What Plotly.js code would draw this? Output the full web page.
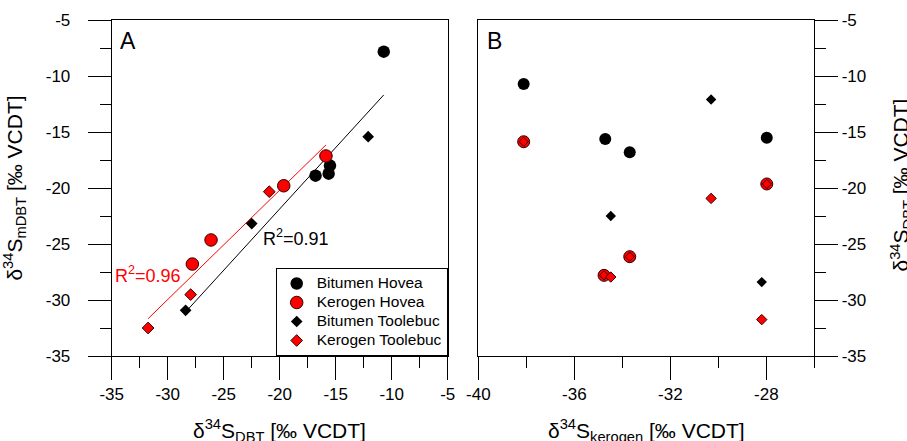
<!DOCTYPE html>
<html>
<head>
<meta charset="utf-8">
<script src="https://cdn.plot.ly/plotly-3.0.1.min.js"></script>
<style>html,body{margin:0;padding:0;background:#fff;}#chart{width:907px;height:441px;}</style>
</head>
<body>
<div id="chart"></div>
<script>
// δ34S of DBT (shared: x in panel A, y in panel B)
const bitHoveaDBT  = [-10.71, -15.51, -15.63, -16.80];
const bitHoveaMDBT = [-7.83, -18.00, -18.72, -18.90];
const bitHoveaKer  = [-38.11, -27.98, -34.71, -33.69];

const kerHoveaDBT  = [-15.87, -19.64, -26.13, -27.80];
const kerHoveaMDBT = [-17.14, -19.80, -24.64, -26.79];
const kerHoveaKer  = [-38.11, -27.98, -33.69, -34.76];

const bitTooleDBT  = [-12.10, -22.50, -28.40];
const bitTooleMDBT = [-15.42, -23.18, -30.92];
const bitTooleKer  = [-30.30, -34.48, -28.19];

const kerTooleDBT  = [-20.93, -27.95, -31.75];
const kerTooleMDBT = [-20.33, -29.52, -32.50];
const kerTooleKer  = [-30.30, -34.48, -28.19];

const seriesNames = ['Bitumen Hovea', 'Kerogen Hovea', 'Bitumen Toolebuc', 'Kerogen Toolebuc'];
const r2Labels = ['R<sup>2</sup>=0.91', 'R<sup>2</sup>=0.96'];

// tick labels
const dbtTickVals = [-35, -30, -25, -20, -15, -10, -5];
const dbtTickText = ['-35', '-30', '-25', '-20', '-15', '-10', '-5'];
const kerTickVals = [-40, -36, -32, -28];
const kerTickText = ['-40', '-36', '-32', '-28'];

// axis titles
const titleDBT = 'δ<sup>34</sup>S<sub>DBT</sub> [‰ VCDT]';
const titleMDBT = 'δ<sup>34</sup>S<sub>mDBT</sub> [‰ VCDT]';
const titleKer = 'δ<sup>34</sup>S<sub>kerogen</sub> [‰ VCDT]';

const FONT = 'Liberation Sans, Arial, sans-serif';

function fit(xs, ys) {
  const n = xs.length;
  const mx = xs.reduce((a, b) => a + b, 0) / n;
  const my = ys.reduce((a, b) => a + b, 0) / n;
  let sxy = 0, sxx = 0;
  for (let i = 0; i < n; i++) { sxy += (xs[i] - mx) * (ys[i] - my); sxx += (xs[i] - mx) ** 2; }
  const m = sxy / sxx, b = my - m * mx;
  const x0 = Math.min(...xs), x1 = Math.max(...xs);
  return { x: [x0, x1], y: [m * x0 + b, m * x1 + b] };
}

const blackX = bitHoveaDBT.concat(bitTooleDBT), blackY = bitHoveaMDBT.concat(bitTooleMDBT);
const redX = kerHoveaDBT.concat(kerTooleDBT), redY = kerHoveaMDBT.concat(kerTooleMDBT);
const fitBlack = fit(blackX, blackY);
const fitRed = fit(redX, redY);

const lg = n => '<span style="font-size:15.5px">' + n + '</span>';

const outline = { color: '#300000', width: 1 };

const traces = [
  { x: fitBlack.x, y: fitBlack.y, mode: 'lines', line: { color: 'black', width: 1 }, showlegend: false, xaxis: 'x', yaxis: 'y', hoverinfo: 'skip' },
  { x: fitRed.x, y: fitRed.y, mode: 'lines', line: { color: 'red', width: 1 }, showlegend: false, xaxis: 'x', yaxis: 'y', hoverinfo: 'skip' },
  { x: bitHoveaDBT, y: bitHoveaMDBT, mode: 'markers', name: lg(seriesNames[0]), marker: { symbol: 'circle', size: 12.5, color: 'black' }, xaxis: 'x', yaxis: 'y' },
  { x: kerHoveaDBT, y: kerHoveaMDBT, mode: 'markers', name: lg(seriesNames[1]), marker: { symbol: 'circle', size: 12.5, color: 'red', line: outline }, xaxis: 'x', yaxis: 'y' },
  { x: bitTooleDBT, y: bitTooleMDBT, mode: 'markers', name: lg(seriesNames[2]), marker: { symbol: 'diamond', size: 9, color: 'black' }, xaxis: 'x', yaxis: 'y' },
  { x: kerTooleDBT, y: kerTooleMDBT, mode: 'markers', name: lg(seriesNames[3]), marker: { symbol: 'diamond', size: 9, color: 'red', line: outline }, xaxis: 'x', yaxis: 'y' },
  // Panel B
  { x: bitHoveaKer, y: bitHoveaDBT, mode: 'markers', showlegend: false, marker: { symbol: 'circle', size: 12, color: 'black' }, xaxis: 'x2', yaxis: 'y2' },
  { x: kerHoveaKer, y: kerHoveaDBT, mode: 'markers', showlegend: false, marker: { symbol: 'circle', size: 12, color: 'red', line: outline }, xaxis: 'x2', yaxis: 'y2' },
  { x: kerHoveaKer, y: kerHoveaDBT, mode: 'markers', showlegend: false, marker: { symbol: 'diamond', size: 7, color: 'red', line: outline }, xaxis: 'x2', yaxis: 'y2' },
  { x: bitTooleKer, y: bitTooleDBT, mode: 'markers', showlegend: false, marker: { symbol: 'diamond', size: 8, color: 'black' }, xaxis: 'x2', yaxis: 'y2' },
  { x: kerTooleKer, y: kerTooleDBT, mode: 'markers', showlegend: false, marker: { symbol: 'diamond', size: 8, color: 'red', line: outline }, xaxis: 'x2', yaxis: 'y2' }
];

const W = 907, H = 441;
const px = v => v / W, py = v => (H - v) / H;

function minorTicks(d) {
  return { dtick: d, ticks: 'outside', ticklen: 11, tickwidth: 1, tickcolor: 'black', showgrid: false };
}

function axisBase(extra) {
  return Object.assign({
    showline: true, linecolor: 'black', linewidth: 1, mirror: true,
    showgrid: false, zeroline: false,
    ticks: 'outside', ticklen: 23, tickwidth: 1, tickcolor: 'black',
    tickfont: { family: FONT, size: 17, color: 'black' },
    tickmode: 'array',
    automargin: false
  }, extra);
}

const titleFont = { family: FONT, size: 21, color: 'black' };

const layout = {
  width: W, height: H,
  margin: { l: 0, r: 0, t: 0, b: 0, pad: 0 },
  paper_bgcolor: 'white', plot_bgcolor: 'white',
  font: { family: FONT, color: 'black' },
  xaxis: axisBase({ domain: [px(111.7), px(447.7)], range: [-35, -5], tickvals: dbtTickVals, ticktext: dbtTickText, minor: minorTicks(2.5), anchor: 'y' }),
  yaxis: axisBase({ domain: [py(356), py(20)], range: [-35, -5], tickvals: dbtTickVals, ticktext: dbtTickText, minor: minorTicks(2.5), anchor: 'x', side: 'left', ticklabelstandoff: 14,
    title: { text: titleMDBT, font: titleFont, standoff: 20 } }),
  xaxis2: axisBase({ domain: [px(478.3), px(814.3)], range: [-40, -26], tickvals: kerTickVals, ticktext: kerTickText, minor: minorTicks(2), anchor: 'y2' }),
  yaxis2: axisBase({ domain: [py(356), py(20)], range: [-35, -5], tickvals: dbtTickVals, ticktext: dbtTickText, minor: minorTicks(2.5), anchor: 'x2', side: 'right', ticklabelstandoff: 0 }),
  showlegend: true,
  legend: {
    x: px(447.7), xanchor: 'right', y: py(356), yanchor: 'bottom',
    bgcolor: 'white', bordercolor: 'black', borderwidth: 1,
    font: { family: FONT, size: 11.5, color: 'black' },
    tracegroupgap: 0, itemwidth: 30
  },
  annotations: [
    { text: 'A', xref: 'paper', yref: 'paper', x: px(118), y: py(26), xanchor: 'left', yanchor: 'top', showarrow: false, font: { family: FONT, size: 23, color: 'black' } },
    { text: 'B', xref: 'paper', yref: 'paper', x: px(485), y: py(26), xanchor: 'left', yanchor: 'top', showarrow: false, font: { family: FONT, size: 23, color: 'black' } },
    { text: r2Labels[0], xref: 'x', yref: 'y', x: -18.52, y: -24.4, showarrow: false, font: { family: FONT, size: 18, color: 'black' } },
    { text: r2Labels[1], xref: 'x', yref: 'y', x: -31.73, y: -27.7, showarrow: false, font: { family: FONT, size: 18, color: 'red' } },
    // axis titles
    { text: titleDBT, xref: 'paper', yref: 'paper', x: px(279.7), y: py(414), xanchor: 'center', yanchor: 'top', showarrow: false, font: titleFont },
    { text: titleKer, xref: 'paper', yref: 'paper', x: px(646.3), y: py(414), xanchor: 'center', yanchor: 'top', showarrow: false, font: titleFont },
    { text: titleDBT, xref: 'paper', yref: 'paper', x: px(884), y: py(185), xanchor: 'left', yanchor: 'middle', textangle: -90, showarrow: false, font: titleFont }
  ]
};

Plotly.newPlot('chart', traces, layout, { staticPlot: true, displayModeBar: false });
</script>
</body>
</html>
